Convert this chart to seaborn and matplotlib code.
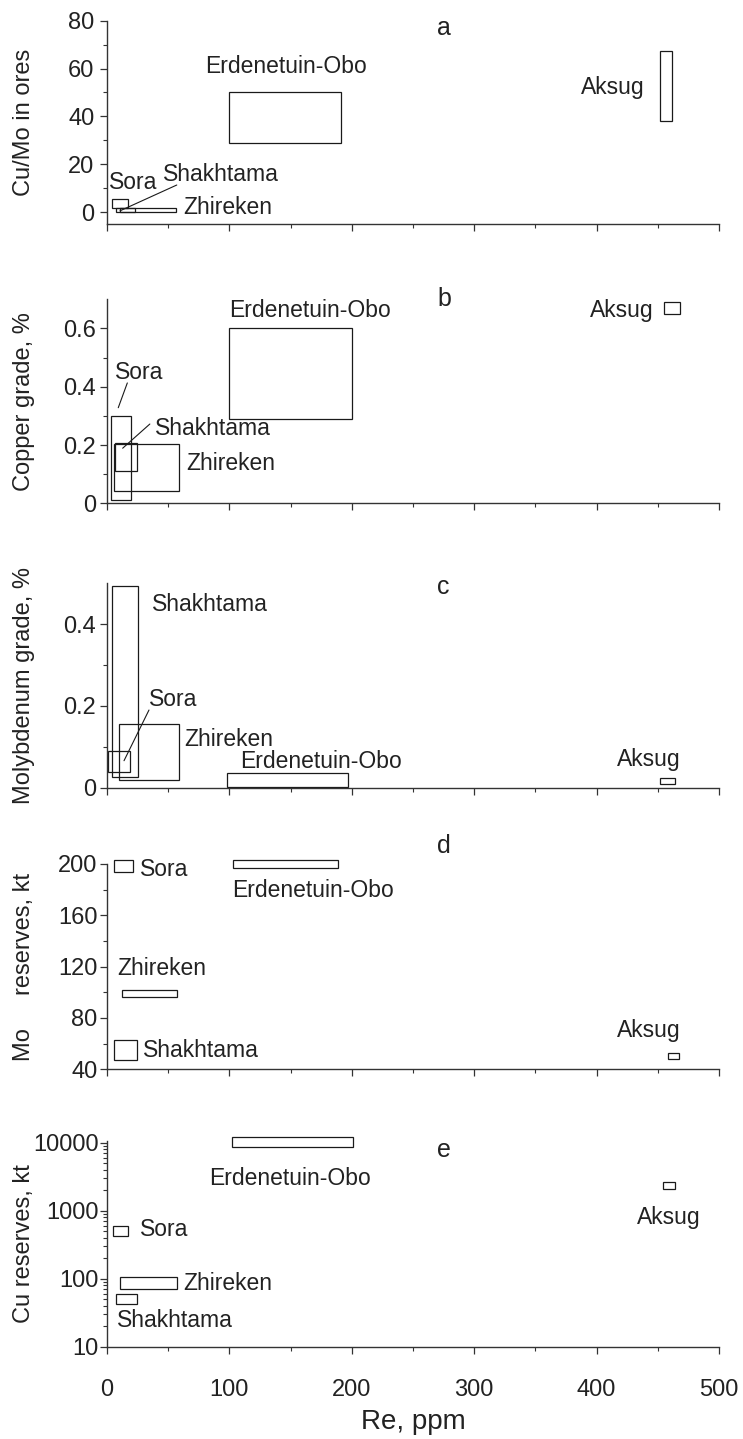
import numpy as np
import matplotlib
matplotlib.use("Agg")
import matplotlib.pyplot as plt
from matplotlib.ticker import FixedLocator, NullFormatter, LogLocator
import seaborn as sns

sns.set_style("ticks")
plt.rcParams['font.family'] = ['Liberation Sans', 'DejaVu Sans']

deposits = ['Erdenetuin-Obo', 'Aksug', 'Sora', 'Shakhtama', 'Zhireken']

# Re ranges (ppm) and property ranges for each panel, in deposit order
# a: Cu/Mo in ores
re_lo_a = [100, 452, 4, 7, 10.5]
re_hi_a = [191, 462, 17, 23, 56]
cumo_lo = [29, 38, 1.5, 0, 0]
cumo_hi = [50, 67.5, 5.3, 1.5, 1.5]
# b: copper grade, %
re_lo_b = [100, 455, 3, 6.5, 5.5]
re_hi_b = [200.5, 468, 19.5, 24.5, 59]
cu_lo = [0.29, 0.648, 0.011, 0.112, 0.043]
cu_hi = [0.60, 0.690, 0.300, 0.208, 0.202]
# c: molybdenum grade, %
re_lo_c = [98, 452, 0.5, 4, 10]
re_hi_c = [196.5, 464, 19, 25.5, 59]
mo_lo = [0.002, 0.008, 0.038, 0.025, 0.018]
mo_hi = [0.035, 0.024, 0.090, 0.494, 0.156]
# d: Mo reserves, kt
re_lo_d = [103, 458, 5.5, 5.5, 12]
re_hi_d = [189, 467, 21.5, 24.5, 57.5]
mores_lo = [197, 48, 194, 47, 96]
mores_hi = [203, 53, 203, 62.5, 102]
# e: Cu reserves, kt
re_lo_e = [102, 454, 4.5, 7, 11]
re_hi_e = [201, 464, 17.5, 24.5, 57.5]
cures_lo = [8500, 2080, 430, 43, 71]
cures_hi = [12000, 2620, 600, 59, 105]

panels = [
    dict(letter='a', ylabel='Cu/Mo in ores', lo=cumo_lo, hi=cumo_hi,
         xlo=re_lo_a, xhi=re_hi_a),
    dict(letter='b', ylabel='Copper grade, %', lo=cu_lo, hi=cu_hi,
         xlo=re_lo_b, xhi=re_hi_b),
    dict(letter='c', ylabel='Molybdenum grade, %', lo=mo_lo, hi=mo_hi,
         xlo=re_lo_c, xhi=re_hi_c),
    dict(letter='d', ylabel='Mo     reserves, kt', lo=mores_lo, hi=mores_hi,
         xlo=re_lo_d, xhi=re_hi_d),
    dict(letter='e', ylabel='Cu reserves, kt', lo=cures_lo, hi=cures_hi,
         xlo=re_lo_e, xhi=re_hi_e),
]

# text positions (data coords) of labels, per panel
label_pos = {
    'a': {'Erdenetuin-Obo': (80, 61, 'left'), 'Aksug': (439, 52, 'right'),
          'Sora': (1.6, 12.3, 'left'), 'Shakhtama': (45.7, 15.5, 'left'),
          'Zhireken': (62, 2, 'left')},
    'b': {'Erdenetuin-Obo': (100, 0.66, 'left'), 'Aksug': (446.7, 0.66, 'right'),
          'Sora': (6.5, 0.448, 'left'), 'Shakhtama': (39, 0.255, 'left'),
          'Zhireken': (64.5, 0.137, 'left')},
    'c': {'Erdenetuin-Obo': (108.6, 0.064, 'left'), 'Aksug': (417, 0.07, 'left'),
          'Sora': (34.3, 0.215, 'left'), 'Shakhtama': (36.7, 0.447, 'left'),
          'Zhireken': (63, 0.117, 'left')},
    'd': {'Erdenetuin-Obo': (102, 179.7, 'left'), 'Aksug': (417, 70, 'left'),
          'Sora': (27, 196, 'left'), 'Shakhtama': (29.4, 55, 'left'),
          'Zhireken': (8.2, 118.7, 'left')},
    'e': {'Erdenetuin-Obo': (83.3, 2990, 'left'), 'Aksug': (433, 790, 'left'),
          'Sora': (27, 532, 'left'), 'Shakhtama': (8.2, 23.9, 'left'),
          'Zhireken': (62, 85.5, 'left')},
}
leaders = {
    'a': [((57, 11.3), (10.6, 0.5))],
    'b': [((16.6, 0.413), (9.2, 0.328)), ((35, 0.272), (12.8, 0.189))],
    'c': [((34.3, 0.19), (13.9, 0.066))],
}
letter_y = {'a': 77, 'b': 0.70, 'c': 0.49, 'd': 214, 'e': 7800}

W, H = 743, 1439
# (top, bottom) in pixels for each axes
boxes = [(20.7, 224), (299.3, 503.3), (583.3, 787.7), (864, 1069.3), (1140.7, 1346.7)]
ylims = [(-5, 80), (0, 0.7), (0, 0.5), (40, 200), (10, 10700)]
ymajor = [[0, 20, 40, 60, 80], [0, 0.2, 0.4, 0.6], [0, 0.2, 0.4],
          [40, 80, 120, 160, 200], [10, 100, 1000, 10000]]
ymajor_lbl = [['0', '20', '40', '60', '80'], ['0', '0.2', '0.4', '0.6'],
              ['0', '0.2', '0.4'], ['40', '80', '120', '160', '200'],
              ['10', '100', '1000', '10000']]
yminor = [[10, 30, 50, 70], [0.1, 0.3, 0.5], [0.1, 0.3], [60, 100, 140, 180], None]
ytick_pad = [4, 3, 3, 2, 1]
ylabel_x = -0.117

txt = '#222222'
line = '#333333'
fig = plt.figure(figsize=(W / 100, H / 100), dpi=100)

for i, p in enumerate(panels):
    top, bot = boxes[i]
    ax = fig.add_axes([107 / W, 1 - bot / H, 612 / W, (bot - top) / H])
    if p['letter'] == 'e':
        ax.set_yscale('log')
    xlo = np.array(p['xlo'])
    xhi = np.array(p['xhi'])
    lo = np.array(p['lo'])
    hi = np.array(p['hi'])
    bars = ax.bar(xlo, hi - lo, width=xhi - xlo, bottom=lo, align='edge',
                  fill=False, edgecolor='#1a1a1a', linewidth=0.9)
    for b in bars:
        b.set_clip_on(False)
    ax.set_xlim(0, 500)
    ax.set_ylim(*ylims[i])
    sns.despine(ax=ax)
    for s in ['left', 'bottom']:
        ax.spines[s].set_color(line)
        ax.spines[s].set_linewidth(1.0)
    ax.xaxis.set_major_locator(FixedLocator(np.arange(0, 501, 100)))
    ax.xaxis.set_minor_locator(FixedLocator(np.arange(50, 500, 100)))
    ax.yaxis.set_major_locator(FixedLocator(ymajor[i]))
    ax.set_yticklabels(ymajor_lbl[i])
    if yminor[i] is not None:
        ax.yaxis.set_minor_locator(FixedLocator(yminor[i]))
    else:
        ax.yaxis.set_minor_locator(LogLocator(base=10, subs=np.arange(2, 10)))
        ax.yaxis.set_minor_formatter(NullFormatter())
    ax.tick_params(which='major', length=5, width=0.9, color=line,
                   labelsize=17, labelcolor=txt)
    ax.tick_params(axis='y', which='major', pad=ytick_pad[i])
    ax.tick_params(which='minor', length=3, width=0.8, color=line)
    if i < 4:
        ax.tick_params(axis='x', labelbottom=False)
    else:
        ax.tick_params(axis='x', pad=18)
        ax.set_xlabel('Re, ppm', fontsize=20, color=txt, labelpad=6)
    ax.set_ylabel(p['ylabel'], fontsize=17, color=txt)
    ax.yaxis.set_label_coords(ylabel_x, 0.5)

    for name, (tx, ty, ha) in label_pos[p['letter']].items():
        ax.text(tx, ty, name, fontsize=16.5, color=txt, ha=ha, va='center',
                clip_on=False)
    for (x0, y0), (x1, y1) in leaders.get(p['letter'], []):
        ax.plot([x0, x1], [y0, y1], color='#1a1a1a', lw=0.8, clip_on=False)
    ax.text(270, letter_y[p['letter']], p['letter'], fontsize=18, color=txt,
            ha='left', va='center', clip_on=False)

fig.savefig('out.png', dpi=100)
